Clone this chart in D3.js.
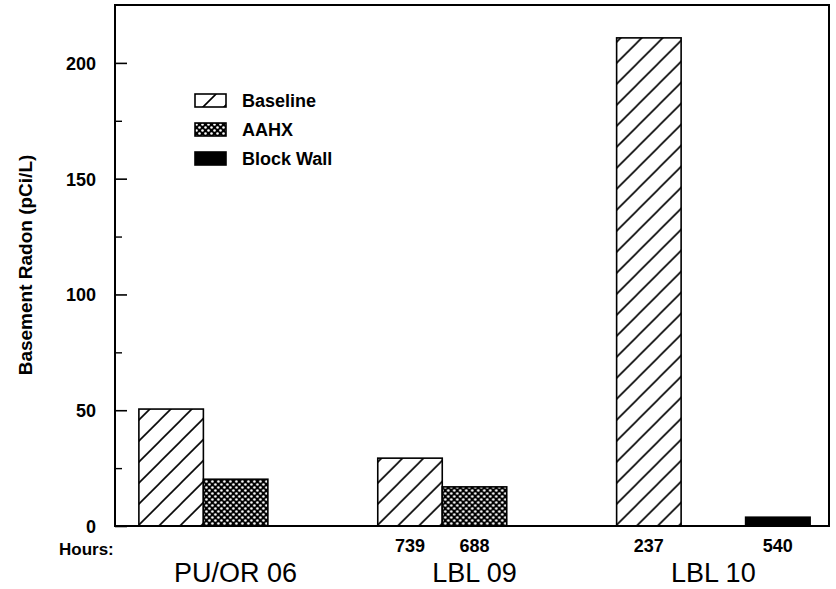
<!DOCTYPE html>
<html>
<head>
<meta charset="utf-8">
<script src="https://cdn.jsdelivr.net/npm/d3@7"></script>
<style>
  body { margin: 0; background: #fff; }
  svg { display: block; }
  .tick-label { font-family: "Liberation Sans", Arial, sans-serif; font-weight: bold; font-size: 18px; }
  .plain { font-family: "Liberation Sans", Arial, sans-serif; }
</style>
</head>
<body>
<div id="chart"></div>
<script>
// Data
var groups = ["PU/OR 06", "LBL 09", "LBL 10"];
var series = ["Baseline", "AAHX", "Block Wall"];
var baseline = [50.5, 29.3, 210.8];
var aahx = [20.2, 16.9, null];
var blockWall = [null, null, 3.8];
var baselineHours = ["", "739", "237"];
var aahxHours = ["", "688", ""];
var blockWallHours = ["", "", "540"];
var yTicks = [0, 50, 100, 150, 200];
var yMinorTicks = [25, 75, 125, 175];

var width = 836;
var height = 589;

// Plot box
var plotLeft = 115;
var plotRight = 829;
var plotTop = 5;
var plotBottom = 526;

var svg = d3
    .select("#chart")
    .append("svg")
    .attr("width", width)
    .attr("height", height);

// Patterns for the bar fills
var defs = svg.append("defs");

var hatch = defs.append("pattern")
    .attr("id", "hatch")
    .attr("patternUnits", "userSpaceOnUse")
    .attr("width", 21)
    .attr("height", 21);
hatch.append("path")
    .attr("d", "M-2,23 L23,-2 M-12,12 L12,-12 M9,33 L33,9")
    .attr("stroke", "#000")
    .attr("stroke-width", 1.6);

var cross = defs.append("pattern")
    .attr("id", "cross")
    .attr("patternUnits", "userSpaceOnUse")
    .attr("width", 6)
    .attr("height", 6);
cross.append("rect").attr("width", 6).attr("height", 6).attr("fill", "#000");
cross.append("circle").attr("cx", 1.5).attr("cy", 1.5).attr("r", 1.3).attr("fill", "#fff");
cross.append("circle").attr("cx", 4.5).attr("cy", 4.5).attr("r", 1.3).attr("fill", "#fff");

var fills = ["url(#hatch)", "url(#cross)", "#000"];

// Scales (band range runs a bit past the frame so the groups land where the picture has them)
var x0 = d3.scaleBand()
    .domain(groups)
    .range([plotLeft, 834])
    .paddingInner(0.19)
    .paddingOuter(0.1);

var x1 = d3.scaleBand()
    .domain(series)
    .range([0, x0.bandwidth()]);

var y = d3.scaleLinear()
    .domain([0, 225])
    .range([plotBottom, plotTop]);

// Build rows for each group
var rows = groups.map(function (g, i) {
    return {
        group: g,
        bars: [
            { key: series[0], value: baseline[i], hours: baselineHours[i] },
            { key: series[1], value: aahx[i], hours: aahxHours[i] },
            { key: series[2], value: blockWall[i], hours: blockWallHours[i] }
        ]
    };
});

var g = svg.selectAll(".group")
    .data(rows)
    .enter()
    .append("g")
    .attr("class", "group")
    .attr("transform", function (d) { return "translate(" + x0(d.group) + ",0)"; });

g.selectAll("rect")
    .data(function (d) { return d.bars.filter(function (b) { return b.value != null; }); })
    .enter()
    .append("rect")
    .attr("x", function (d) { return x1(d.key); })
    .attr("y", function (d) { return y(d.value); })
    .attr("width", x1.bandwidth())
    .attr("height", function (d) { return y(0) - y(d.value); })
    .attr("fill", function (d) { return fills[series.indexOf(d.key)]; })
    .attr("stroke", "#000")
    .attr("stroke-width", 1.6);

// Hours under the bars
g.selectAll(".hours")
    .data(function (d) { return d.bars.filter(function (b) { return b.hours !== ""; }); })
    .enter()
    .append("text")
    .attr("class", "hours tick-label")
    .attr("x", function (d) { return x1(d.key) + x1.bandwidth() / 2; })
    .attr("y", 552)
    .attr("text-anchor", "middle")
    .text(function (d) { return d.hours; });

// Group names
svg.selectAll(".gname")
    .data(groups)
    .enter()
    .append("text")
    .attr("class", "gname plain")
    .attr("x", function (d) { return x0(d) + x0.bandwidth() / 2; })
    .attr("y", 582)
    .attr("text-anchor", "middle")
    .style("font-size", "27px")
    .text(function (d) { return d; });

svg.append("text")
    .attr("class", "tick-label")
    .attr("x", 59)
    .attr("y", 555)
    .style("font-size", "17px")
    .text("Hours:");

// Frame
svg.append("path")
    .attr("d", "M" + plotLeft + "," + plotBottom + " V" + plotTop + " H" + plotRight + " V" + plotBottom + " Z")
    .attr("fill", "none")
    .attr("stroke", "#000")
    .attr("stroke-width", 2);

// Y axis ticks drawn inside the frame
var yAxis = d3.axisRight(y)
    .tickValues(yTicks)
    .tickSize(12)
    .tickFormat("");
svg.append("g")
    .attr("transform", "translate(" + plotLeft + ",0)")
    .call(yAxis)
    .call(function (s) { s.select(".domain").remove(); })
    .selectAll("line").attr("stroke-width", 1.6);

var yMinor = d3.axisRight(y)
    .tickValues(yMinorTicks)
    .tickSize(7)
    .tickFormat("");
svg.append("g")
    .attr("transform", "translate(" + plotLeft + ",0)")
    .call(yMinor)
    .call(function (s) { s.select(".domain").remove(); })
    .selectAll("line").attr("stroke-width", 1.4);

// Tick labels
svg.selectAll(".ylab")
    .data(yTicks)
    .enter()
    .append("text")
    .attr("class", "tick-label")
    .attr("x", 96)
    .attr("y", function (d) { return y(d) + 7; })
    .attr("text-anchor", "end")
    .text(function (d) { return d; });

// Y axis title
svg.append("text")
    .attr("transform", "translate(32,265) rotate(-90)")
    .attr("text-anchor", "middle")
    .style("font-family", "'Liberation Sans', Arial, sans-serif")
    .style("font-size", "19px")
    .style("font-weight", "bold")
    .text("Basement Radon (pCi/L)");

// Legend
var legend = svg.append("g").attr("transform", "translate(195,94)");
var item = legend.selectAll(".item")
    .data(series)
    .enter()
    .append("g")
    .attr("transform", function (d, i) { return "translate(0," + (i * 29) + ")"; });

item.append("rect")
    .attr("width", 31)
    .attr("height", 13)
    .attr("fill", function (d, i) { return fills[i]; })
    .attr("stroke", "#000")
    .attr("stroke-width", 1.6);

item.append("text")
    .attr("class", "tick-label")
    .attr("x", 47)
    .attr("y", 13)
    .text(function (d) { return d; });
</script>
</body>
</html>
